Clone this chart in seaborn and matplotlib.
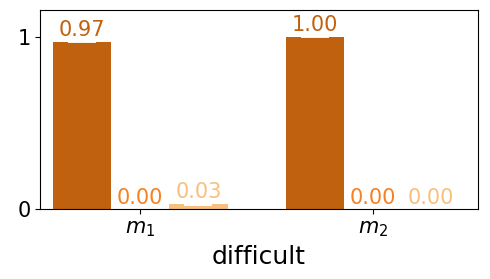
import pandas as pd
import matplotlib
matplotlib.use('Agg')
import matplotlib.pyplot as plt
import seaborn as sns

# Data
groups = ["$m_1$", "$m_2$"]
series = ["a", "b", "c"]
values_a = [0.97, 1.00]
values_b = [0.00, 0.00]
values_c = [0.03, 0.00]
colors = ["#c0610f", "#f7801f", "#f7c07f"]

df = pd.DataFrame({
    "group": groups * 3,
    "series": [s for s in series for _ in groups],
    "value": values_a + values_b + values_c,
})

fig, ax = plt.subplots(figsize=(4.9, 2.79), dpi=100)
sns.barplot(data=df, x="group", y="value", hue="series", palette=colors,
            width=0.75, saturation=1, errorbar=None, legend=False, ax=ax)

# Value labels + thin white cap at each bar top
for container, col in zip(ax.containers, colors):
    for bar in container:
        xc = bar.get_x() + bar.get_width() / 2
        h = bar.get_height()
        ax.errorbar(xc, h, yerr=0.003, fmt="none", ecolor="white",
                    capsize=10, elinewidth=0, capthick=1.3)
        ax.text(xc, h + 0.01, f"{h:.2f}", ha="center", va="bottom",
                color=col, fontsize=15)

ax.set_xlim(-0.43, 1.45)
ax.set_ylim(0, 1.156)
ax.set_yticks([0, 1])
ax.set_ylabel("")
ax.set_xlabel("difficult", fontsize=18)
ax.tick_params(axis="both", labelsize=15)
ax.grid(False)

fig.subplots_adjust(left=0.082, right=0.975, top=0.965, bottom=0.25)
plt.savefig("out.png", dpi=100)
plt.close()
